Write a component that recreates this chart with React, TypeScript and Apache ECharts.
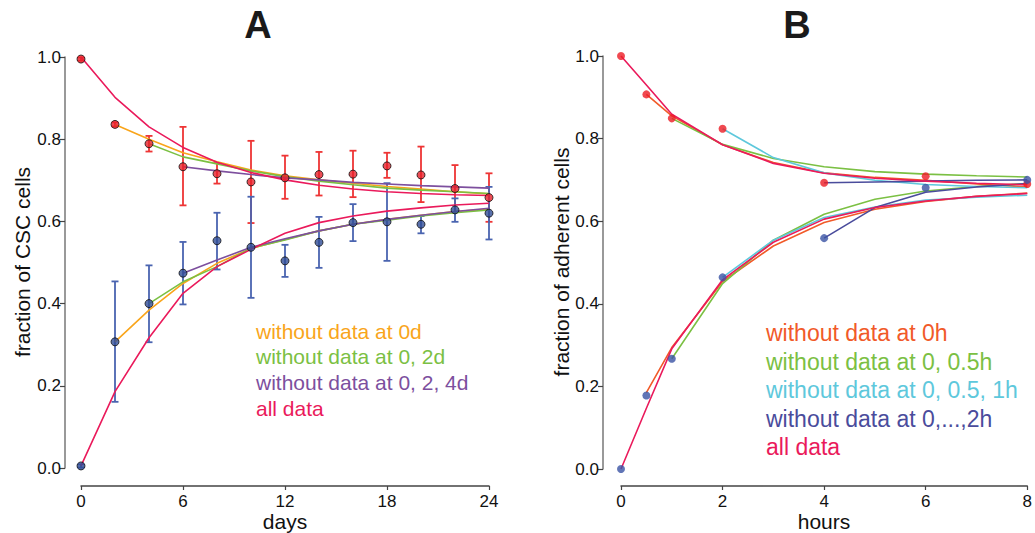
import React, { useEffect, useRef } from "react";
import * as echarts from "echarts";

// ---------- Panel A data (days) ----------
const daysA = [0, 2, 4, 6, 8, 10, 12, 14, 16, 18, 20, 22, 24];
const redA = [0.995, 0.836, 0.789, 0.733, 0.716, 0.696, 0.706, 0.714, 0.715, 0.735, 0.713, 0.680, 0.658];
const redLoA = [0.991, 0.831, 0.770, 0.639, 0.692, 0.596, 0.655, 0.663, 0.659, 0.706, 0.647, 0.623, 0.599];
const redHiA = [0.999, 0.841, 0.808, 0.830, 0.742, 0.796, 0.760, 0.769, 0.772, 0.767, 0.782, 0.737, 0.717];
const blueA = [0.005, 0.307, 0.400, 0.474, 0.553, 0.537, 0.504, 0.549, 0.597, 0.599, 0.593, 0.628, 0.620];
const blueLoA = [0.001, 0.161, 0.306, 0.398, 0.483, 0.414, 0.465, 0.487, 0.552, 0.504, 0.571, 0.599, 0.556];
const blueHiA = [0.009, 0.454, 0.493, 0.550, 0.621, 0.660, 0.543, 0.611, 0.642, 0.693, 0.613, 0.656, 0.684];

const allUpA = [1.0, 0.902, 0.830, 0.780, 0.744, 0.719, 0.701, 0.688, 0.679, 0.672, 0.668, 0.665, 0.663];
const allLowA = [0.005, 0.186, 0.317, 0.425, 0.490, 0.532, 0.571, 0.597, 0.613, 0.625, 0.633, 0.640, 0.644];
const wo0dUpA = [null, 0.836, 0.800, 0.767, 0.745, 0.725, 0.711, 0.701, 0.693, 0.685, 0.679, 0.672, 0.667];
const wo0dLowA = [null, 0.307, 0.384, 0.449, 0.498, 0.534, 0.556, 0.577, 0.593, 0.605, 0.615, 0.624, 0.630];
const wo2dUpA = [null, null, 0.789, 0.757, 0.740, 0.723, 0.709, 0.698, 0.689, 0.681, 0.676, 0.672, 0.668];
const wo2dLowA = [null, null, 0.400, 0.453, 0.490, 0.535, 0.555, 0.577, 0.593, 0.603, 0.613, 0.621, 0.628];
const wo4dUpA = [null, null, null, 0.733, 0.723, 0.714, 0.706, 0.701, 0.695, 0.691, 0.687, 0.684, 0.681];
const wo4dLowA = [null, null, null, 0.474, 0.506, 0.537, 0.558, 0.577, 0.593, 0.605, 0.615, 0.624, 0.632];

const legendA = ["without data at 0d", "without data at 0, 2d", "without data at 0, 2, 4d", "all data"];

// ---------- Panel B data (hours) ----------
const hoursPts = [0, 0.5, 1, 2, 4, 6, 8];
const redB = [1.0, 0.907, 0.849, 0.824, 0.693, 0.709, 0.690];
const blueB = [0.0, 0.178, 0.267, 0.464, 0.559, 0.681, 0.700];

const hoursFit = [0, 0.5, 1, 2, 3, 4, 5, 6, 7, 8];
const allUpB = [1.0, 0.93, 0.859, 0.785, 0.740, 0.716, 0.704, 0.697, 0.692, 0.688];
const wo0hUpB = [null, 0.907, 0.855, 0.785, 0.742, 0.717, 0.706, 0.699, 0.690, 0.683];
const wo05UpB = [null, null, 0.849, 0.786, 0.752, 0.732, 0.720, 0.714, 0.710, 0.707];
const wo1UpB = [null, null, null, 0.824, 0.754, 0.717, 0.699, 0.689, 0.684, 0.681];
const wo2UpB = [null, null, null, null, null, 0.693, 0.695, 0.697, 0.699, 0.700];
const allLowB = [0.0, 0.147, 0.291, 0.458, 0.549, 0.605, 0.633, 0.649, 0.660, 0.667];
const wo0hLowB = [null, 0.185, 0.294, 0.454, 0.540, 0.597, 0.629, 0.648, 0.660, 0.668];
const wo05LowB = [null, null, 0.267, 0.449, 0.554, 0.617, 0.653, 0.673, 0.684, 0.691];
const wo1LowB = [null, null, null, 0.464, 0.554, 0.609, 0.634, 0.651, 0.658, 0.663];
const wo2LowB = [null, null, null, null, null, 0.559, 0.633, 0.670, 0.683, 0.691];

const legendB = [
  "without data at 0h",
  "without data at 0, 0.5h",
  "without data at 0, 0.5, 1h",
  "without data at 0,...,2h",
  "all data",
];

const FONT = "'Liberation Sans', Arial, Helvetica, sans-serif";

const C = {
  orangeA: "#f9a51b",
  green: "#7bc043",
  purple: "#7d4f9e",
  crimson: "#ea1a5b",
  orangeB: "#f15a29",
  cyan: "#5ec8dc",
  navy: "#4a4c9c",
  redPt: "#e8202a",
  bluePt: "#2f4c96",
  redErr: "#ee3535",
  blueErr: "#4a64b0",
};

function zip(xs: number[], ys: (number | null)[]) {
  return xs.map((x, i) => [x, ys[i] == null ? null : ys[i]]);
}

function errSeries(xs: number[], lo: number[], hi: number[], color: string, gi: number) {
  return {
    type: "custom",
    xAxisIndex: gi,
    yAxisIndex: gi,
    z: 2,
    encode: { x: 0, y: [1, 2] },
    data: xs.map((x, i) => [x, lo[i], hi[i]]),
    renderItem: (params: any, api: any) => {
      const x = api.value(0);
      const pLo = api.coord([x, api.value(1)]);
      const pHi = api.coord([x, api.value(2)]);
      const hw = 3.5;
      const style = { stroke: color, lineWidth: 1.8 };
      return {
        type: "group",
        children: [
          { type: "line", shape: { x1: pLo[0], y1: pLo[1], x2: pHi[0], y2: pHi[1] }, style },
          { type: "line", shape: { x1: pLo[0] - hw, y1: pLo[1], x2: pLo[0] + hw, y2: pLo[1] }, style },
          { type: "line", shape: { x1: pHi[0] - hw, y1: pHi[1], x2: pHi[0] + hw, y2: pHi[1] }, style },
        ],
      };
    },
  };
}

function lineSeries(xs: number[], ys: (number | null)[], color: string, gi: number) {
  return {
    type: "line",
    xAxisIndex: gi,
    yAxisIndex: gi,
    z: 3,
    data: zip(xs, ys),
    showSymbol: false,
    symbol: "none",
    connectNulls: false,
    lineStyle: { color, width: 1.6 },
    silent: true,
  };
}

function pointSeries(xs: number[], ys: number[], color: string, gi: number, border: boolean) {
  return {
    type: "scatter",
    xAxisIndex: gi,
    yAxisIndex: gi,
    z: 5,
    data: zip(xs, ys),
    symbol: "circle",
    symbolSize: 8,
    itemStyle: {
      color,
      borderColor: border ? "#111" : color,
      borderWidth: border ? 1 : 0,
    },
  };
}

export default function App() {
  const ref = useRef<HTMLDivElement>(null);

  useEffect(() => {
    if (!ref.current) return;
    const chart = echarts.init(ref.current, null, { renderer: "svg" });

    const axisLabel = { fontFamily: FONT, fontSize: 17, color: "#111" };

    const xAxisCommon = {
      type: "value",
      axisLine: { show: true, onZero: false, lineStyle: { color: "#444", width: 1.5 } },
      axisTick: { show: true, length: 4, lineStyle: { color: "#444", width: 1.2 } },
      axisLabel: { ...axisLabel, margin: 7 },
      splitLine: { show: false },
    };
    const yAxisCommon = {
      type: "value",
      min: 0,
      max: 1,
      interval: 0.2,
      axisLine: { show: true, onZero: false, lineStyle: { color: "#777", width: 1.5 } },
      axisTick: { show: true, length: 5, lineStyle: { color: "#444", width: 1.2 } },
      axisLabel: { ...axisLabel, margin: 4, formatter: (v: number) => v.toFixed(1) },
      splitLine: { show: false },
    };

    const gText = (text: string, x: number, y: number, color: string, fontSize: number, extra: any = {}) => ({
      type: "text",
      x,
      y,
      style: {
        text,
        fill: color,
        fontFamily: FONT,
        fontSize,
        textAlign: "left",
        textVerticalAlign: "middle",
        ...extra,
      },
    });

    const colorsA = [C.orangeA, C.green, C.purple, C.crimson];
    const colorsB = [C.orangeB, C.green, C.cyan, C.navy, C.crimson];

    const graphic: any[] = [
      gText("A", 258, 25, "#1a1a1a", 38, { textAlign: "center", fontWeight: "bold" }),
      gText("B", 797, 25, "#1a1a1a", 38, { textAlign: "center", fontWeight: "bold" }),
      gText("days", 285, 521, "#111", 21, { textAlign: "center" }),
      gText("hours", 824, 521, "#111", 21, { textAlign: "center" }),
      {
        type: "text",
        x: 22,
        y: 262,
        rotation: Math.PI / 2,
        style: {
          text: "fraction of CSC cells",
          fill: "#111",
          fontFamily: FONT,
          fontSize: 21,
          textAlign: "center",
          textVerticalAlign: "middle",
        },
      },
      {
        type: "text",
        x: 561,
        y: 262,
        rotation: Math.PI / 2,
        style: {
          text: "fraction of adherent cells",
          fill: "#111",
          fontFamily: FONT,
          fontSize: 21,
          textAlign: "center",
          textVerticalAlign: "middle",
        },
      },
    ];
    legendA.forEach((t, i) => graphic.push(gText(t, 256, 331 + i * 25.7, colorsA[i], 21)));
    legendB.forEach((t, i) => graphic.push(gText(t, 766, 333 + i * 28.5, colorsB[i], 23)));

    const option: any = {
      animation: false,
      backgroundColor: "#fff",
      grid: [
        { left: 81, top: 57, width: 408, height: 411, containLabel: false },
        { left: 621, top: 56, width: 407, height: 413, containLabel: false },
      ],
      xAxis: [
        { ...xAxisCommon, gridIndex: 0, min: 0, max: 24, interval: 6, offset: 18 },
        { ...xAxisCommon, gridIndex: 1, min: 0, max: 8, interval: 2, offset: 17 },
      ],
      yAxis: [
        { ...yAxisCommon, gridIndex: 0, offset: 16 },
        { ...yAxisCommon, gridIndex: 1, offset: 18 },
      ],
      graphic,
      series: [
        // Panel A
        errSeries(daysA, redLoA, redHiA, C.redErr, 0),
        errSeries(daysA, blueLoA, blueHiA, C.blueErr, 0),
        lineSeries(daysA, wo0dUpA, C.orangeA, 0),
        lineSeries(daysA, wo0dLowA, C.orangeA, 0),
        lineSeries(daysA, wo2dUpA, C.green, 0),
        lineSeries(daysA, wo2dLowA, C.green, 0),
        lineSeries(daysA, wo4dUpA, C.purple, 0),
        lineSeries(daysA, wo4dLowA, C.purple, 0),
        lineSeries(daysA, allUpA, C.crimson, 0),
        lineSeries(daysA, allLowA, C.crimson, 0),
        pointSeries(daysA, redA, C.redPt, 0, true),
        pointSeries(daysA, blueA, C.bluePt, 0, true),
        // Panel B
        lineSeries(hoursFit, wo0hUpB, C.orangeB, 1),
        lineSeries(hoursFit, wo0hLowB, C.orangeB, 1),
        lineSeries(hoursFit, wo05UpB, C.green, 1),
        lineSeries(hoursFit, wo05LowB, C.green, 1),
        lineSeries(hoursFit, wo1UpB, C.cyan, 1),
        lineSeries(hoursFit, wo1LowB, C.cyan, 1),
        lineSeries(hoursFit, wo2UpB, C.navy, 1),
        lineSeries(hoursFit, wo2LowB, C.navy, 1),
        lineSeries(hoursFit, allUpB, C.crimson, 1),
        lineSeries(hoursFit, allLowB, C.crimson, 1),
        pointSeries(hoursPts, redB, "#ec1c24", 1, false),
        pointSeries(hoursPts, blueB, "#3953a4", 1, false),
      ],
    };

    chart.setOption(option);
    return () => chart.dispose();
  }, []);

  return (
    <div
      ref={ref}
      style={{ position: "absolute", left: 0, top: 0, width: 1035, height: 533, background: "#fff" }}
    />
  );
}
